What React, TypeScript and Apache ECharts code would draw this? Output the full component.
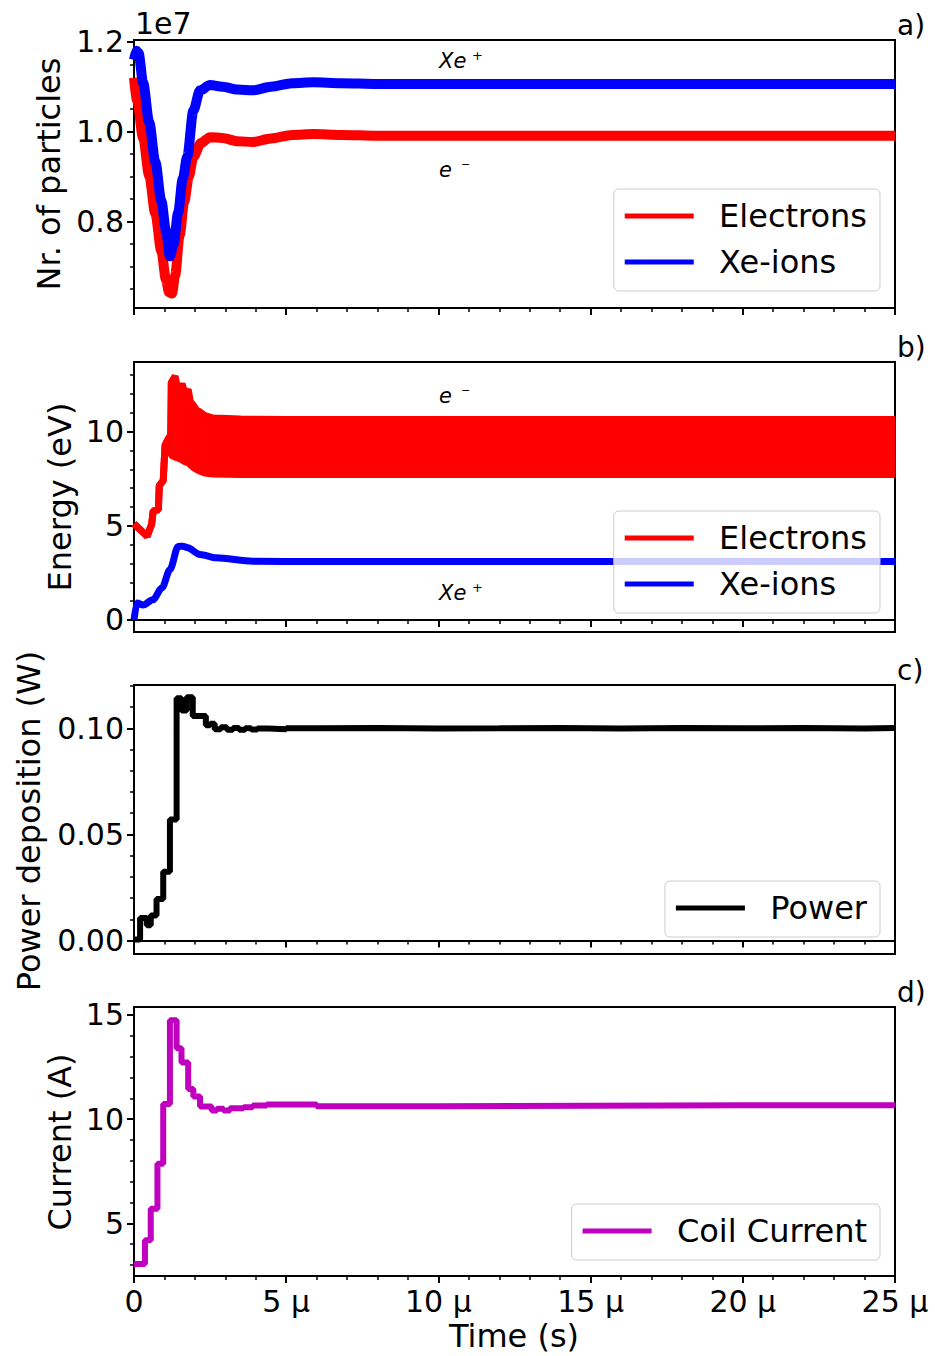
import React, { useEffect, useRef } from 'react';
import * as echarts from 'echarts';

const FONT = 'DejaVu Sans';

// ---------- Panel a: number of particles (x1e7) ----------
const tElecA = [0, 0.1, 0.3, 0.5, 0.7, 0.9, 1.05, 1.15, 1.25, 1.35, 1.5, 1.65, 1.8, 1.95, 2.2, 2.5, 2.9, 3.4, 3.9, 4.5, 5.2, 5.9, 6.8, 8, 10, 13, 16, 19, 22, 25];
const nElectrons = [1.12, 1.07, 0.986, 0.902, 0.818, 0.734, 0.671, 0.643, 0.64, 0.68, 0.77, 0.845, 0.9, 0.944, 0.975, 0.988, 0.986, 0.979, 0.977, 0.985, 0.993, 0.995, 0.993, 0.991, 0.991, 0.991, 0.991, 0.991, 0.991, 0.991];
const tIonA = [0, 0.08, 0.15, 0.3, 0.5, 0.7, 0.9, 1.05, 1.18, 1.3, 1.45, 1.6, 1.75, 1.95, 2.17, 2.5, 2.9, 3.4, 3.9, 4.5, 5.2, 5.9, 6.8, 8, 10, 13, 16, 19, 22, 25];
const nIons = [1.16, 1.18, 1.175, 1.109, 1.021, 0.933, 0.846, 0.78, 0.723, 0.75, 0.82, 0.895, 0.945, 1.047, 1.092, 1.104, 1.1, 1.094, 1.092, 1.1, 1.108, 1.11, 1.108, 1.106, 1.106, 1.106, 1.106, 1.106, 1.106, 1.106];

// ---------- Panel b: energy (eV) ----------
const tEnergyE = [0, 0.2, 0.43, 0.58, 0.63, 0.8, 0.83, 0.96, 1.02, 1.13, 1.2, 1.22, 1.35, 1.45, 1.58, 1.68, 1.78, 1.85, 1.95, 2.05, 2.17, 2.33, 2.6, 3.5, 5, 10, 15, 20, 25];
const eUpper = [5.1, 4.8, 4.44, 5.08, 5.79, 5.85, 7.13, 7.4, 9.27, 9.63, 9.8, 12.6, 12.95, 12.1, 12.55, 12.0, 12.25, 11.6, 11.4, 11.15, 11.05, 10.85, 10.72, 10.67, 10.65, 10.65, 10.65, 10.65, 10.65];
const eLower = [5.1, 4.8, 4.44, 5.08, 5.79, 5.85, 7.13, 7.4, 9.27, 9.63, 9.8, 8.75, 8.65, 8.6, 8.5, 8.4, 8.35, 8.25, 8.1, 8.0, 7.9, 7.8, 7.75, 7.72, 7.72, 7.72, 7.72, 7.72, 7.72];
const tEnergyI = [0, 0.1, 0.3, 0.62, 0.92, 1.18, 1.45, 1.6, 1.74, 2.17, 2.7, 3.9, 6, 10, 15, 20, 25];
const eIons = [0, 0.9, 0.8, 1.07, 1.7, 2.67, 3.9, 3.92, 3.85, 3.48, 3.3, 3.12, 3.1, 3.1, 3.1, 3.1, 3.1];

// ---------- Panel c: power deposition (W) ----------
const tPower = [0, 0.2, 0.42, 0.55, 0.74, 0.96, 1.18, 1.4, 1.56, 1.73, 1.93, 2.36, 2.5, 2.65, 2.85, 3.05, 3.25, 3.45, 3.65, 3.85, 4.05, 4.4, 5, 6, 8, 10, 12, 14, 16, 18, 20, 22, 24, 25];
const power = [0.0005, 0.0107, 0.0072, 0.0118, 0.0196, 0.0324, 0.057, 0.1142, 0.1084, 0.1146, 0.1058, 0.1014, 0.1022, 0.0995, 0.1005, 0.0993, 0.1002, 0.0993, 0.1, 0.0994, 0.0999, 0.0996, 0.1, 0.1001, 0.0999, 0.1, 0.1002, 0.0999, 0.1001, 0.1, 0.1002, 0.0999, 0.1001, 0.1];

// ---------- Panel d: coil current (A) ----------
const tCurrent = [0, 0.36, 0.55, 0.77, 0.96, 1.18, 1.4, 1.56, 1.78, 1.95, 2.17, 2.55, 2.72, 2.94, 3.15, 3.6, 3.9, 4.36, 5, 6, 8, 10, 15, 20, 25];
const current = [3.04, 4.19, 5.7, 7.86, 10.73, 14.75, 13.4, 12.72, 11.45, 11.08, 10.6, 10.41, 10.5, 10.41, 10.52, 10.57, 10.65, 10.7, 10.7, 10.62, 10.62, 10.64, 10.66, 10.67, 10.68];

// ---------- Axes ticks ----------
const xMajor = [0, 5, 10, 15, 20, 25];
const yMajor = [[0.8, 1.0, 1.2], [0, 5, 10], [0, 0.05, 0.1], [5, 10, 15]];
const yMinor = [
  [0.65, 0.7, 0.75, 0.85, 0.9, 0.95, 1.05, 1.1, 1.15],
  [1, 2, 3, 4, 6, 7, 8, 9, 11, 12, 13],
  [0.01, 0.02, 0.03, 0.04, 0.06, 0.07, 0.08, 0.09, 0.11, 0.12],
  [3, 4, 6, 7, 8, 9, 11, 12, 13, 14],
];
const yRange = [[0.608, 1.204], [-0.64, 13.7], [-0.0063, 0.1204], [2.47, 15.38]];
const yDecimals = [1, 0, 2, 0];
const yTitles = ['Nr. of particles', 'Energy (eV)', 'Power deposition (W)', 'Current (A)'];
const panelLabels = ['a)', 'b)', 'c)', 'd)'];

const zip = (t: number[], v: number[]) => t.map((x, i) => [x, v[i]]);

const GRID_TOPS = [40, 362, 685, 1007];
const GRID_H = [268, 270, 269, 269];
const GRID_LEFT = 134;
const GRID_W = 761;

export default function App() {
  const ref = useRef<HTMLDivElement>(null);
  useEffect(() => {
    if (!ref.current) return;
    const chart = echarts.init(ref.current, null, { renderer: 'svg' });
    const grids = GRID_TOPS.map((top, i) => ({
      left: GRID_LEFT, top, width: GRID_W, height: GRID_H[i],
      show: true, borderColor: '#000', borderWidth: 2, backgroundColor: 'transparent',
    }));
    const xAxes = GRID_TOPS.map((_, i) => ({
      type: 'value', gridIndex: i, min: 0, max: 25, interval: 5,
      axisLine: { show: true, lineStyle: { color: '#000', width: 2 } },
      axisTick: { show: true, length: 7, lineStyle: { color: '#000', width: 2 } },
      minorTick: { show: true, splitNumber: 5, length: 4, lineStyle: { color: '#000', width: 1.5 } },
      splitLine: { show: false },
      axisLabel: {
        show: i === 3, margin: 10, fontSize: 30, fontFamily: FONT, color: '#000',
        formatter: (v: number) => (v === 0 ? '0' : `${v} \u00b5`),
        customValues: xMajor,
      },
    }));
    const yAxes: any[] = [];
    GRID_TOPS.forEach((_, i) => {
      yAxes.push({
        type: 'value', gridIndex: i, position: 'left', min: yRange[i][0], max: yRange[i][1],
        axisLine: { show: true, onZero: false, lineStyle: { color: '#000', width: 2 } },
        axisTick: { show: true, length: 7, customValues: yMajor[i], lineStyle: { color: '#000', width: 2 } },
        axisLabel: {
          show: true, margin: 10, fontSize: 30, fontFamily: FONT, color: '#000',
          customValues: yMajor[i], formatter: (v: number) => v.toFixed(yDecimals[i]),
        },
        splitLine: { show: false },
      });
      yAxes.push({
        type: 'value', gridIndex: i, position: 'left', offset: 0, min: yRange[i][0], max: yRange[i][1],
        axisLine: { show: false },
        axisTick: { show: true, length: 4, customValues: yMinor[i], lineStyle: { color: '#000', width: 1.5 } },
        axisLabel: { show: false },
        splitLine: { show: false },
      });
    });

    const lineBase = { type: 'line', showSymbol: false, symbol: 'none', animation: false };
    const series: any[] = [
      { ...lineBase, name: 'Electrons', xAxisIndex: 0, yAxisIndex: 0, color: '#ff0000', smooth: 0.3, smoothMonotone: 'x', data: zip(tElecA, nElectrons), lineStyle: { width: 10, color: '#ff0000' } },
      { ...lineBase, name: 'Xe-ions', xAxisIndex: 0, yAxisIndex: 0, color: '#0000ff', smooth: 0.3, smoothMonotone: 'x', data: zip(tIonA, nIons), lineStyle: { width: 10, color: '#0000ff' } },
      {
        type: 'custom', name: 'eBand', xAxisIndex: 1, yAxisIndex: 2, animation: false,
        data: tEnergyE.map((t, i) => [t, eLower[i], eUpper[i]]),
        encode: { x: 0, y: [1, 2] },
        renderItem: (params: any, api: any) => {
          const i = params.dataIndexInside;
          if (i === 0) return { type: 'group', children: [] };
          const p0 = api.coord([api.value(0, i - 1), api.value(1, i - 1)]);
          const p1 = api.coord([api.value(0, i), api.value(1, i)]);
          const p2 = api.coord([api.value(0, i), api.value(2, i)]);
          const p3 = api.coord([api.value(0, i - 1), api.value(2, i - 1)]);
          return { type: 'polygon', shape: { points: [p0, p1, p2, p3] }, style: { fill: '#ff0000', stroke: '#ff0000', lineWidth: 1 } };
        },
      },
      { ...lineBase, name: 'eLow', xAxisIndex: 1, yAxisIndex: 2, color: '#ff0000', data: zip(tEnergyE, eLower), lineStyle: { width: 7, color: '#ff0000' } },
      { ...lineBase, name: 'Electrons', xAxisIndex: 1, yAxisIndex: 2, color: '#ff0000', data: zip(tEnergyE, eUpper), lineStyle: { width: 7, color: '#ff0000' } },
      { ...lineBase, name: 'Xe-ions', xAxisIndex: 1, yAxisIndex: 2, color: '#0000ff', smooth: 0.3, smoothMonotone: 'x', data: zip(tEnergyI, eIons), lineStyle: { width: 7, color: '#0000ff' } },
      { ...lineBase, name: 'Power', xAxisIndex: 2, yAxisIndex: 4, step: 'end', color: '#000000', data: zip(tPower, power), lineStyle: { width: 6, color: '#000000' } },
      { ...lineBase, name: 'Coil Current', xAxisIndex: 3, yAxisIndex: 6, step: 'end', color: '#bf00bf', data: zip(tCurrent, current), lineStyle: { width: 6, color: '#bf00bf' } },
    ];

    const legendBase = {
      right: 55, orient: 'vertical', icon: 'rect', itemWidth: 69, itemHeight: 5, itemGap: 12,
      padding: [10, 13, 12, 11], borderColor: '#cccccc', borderWidth: 1, borderRadius: 5,
      backgroundColor: 'rgba(255,255,255,0.8)', selectedMode: false,
      formatter: (n: string) => '  ' + n,
      textStyle: { fontSize: 32, fontFamily: FONT, color: '#000', lineHeight: 34 },
    };
    const legends = [
      { ...legendBase, top: 189, data: ['Electrons', 'Xe-ions'] },
      { ...legendBase, top: 511, data: ['Electrons', 'Xe-ions'] },
      { ...legendBase, top: 881, data: ['Power'] },
      { ...legendBase, top: 1204, data: ['Coil Current'] },
    ];

    const txt = (text: string, x: number, y: number, size: number, opts: any = {}) => ({
      type: 'text', x, y, rotation: opts.rotation || 0, z: 100,
      style: {
        text, fontSize: size, fontFamily: FONT, fontStyle: opts.italic ? 'italic' : 'normal', fill: '#000',
        align: opts.align || 'left', textAlign: opts.align || 'left',
        verticalAlign: 'middle', textVerticalAlign: 'middle',
      },
    });
    const titleX = [49, 60, 29, 60];
    const titleY = [174, 497, 821, 1142];
    const graphics: any[] = [];
    yTitles.forEach((t, i) => graphics.push(txt(t, titleX[i], titleY[i], 32, { rotation: Math.PI / 2, align: 'center' })));
    panelLabels.forEach((t, i) => graphics.push(txt(t, 897, GRID_TOPS[i] - 15, 28)));
    graphics.push(txt('1e7', 135, 23, 30));
    graphics.push(txt('Time (s)', 514, 1336, 32, { align: 'center' }));
    // species annotations
    const ann = (base: string, sup: string, x: number, y: number, supDx: number, supDy: number, supSize: number) => {
      graphics.push(txt(base, x, y, 21, { italic: true }));
      graphics.push(txt(sup, x + supDx, y + supDy, supSize));
    };
    ann('Xe', '+', 439, 61, 33, -6, 13);
    ann('e', '\u2212', 439, 170, 22, -6, 11);
    ann('e', '\u2212', 439, 396, 22, -6, 11);
    ann('Xe', '+', 439, 593, 33, -6, 13);

    chart.setOption({
      animation: false,
      grid: grids,
      xAxis: xAxes,
      yAxis: yAxes,
      series,
      legend: legends,
      graphic: { elements: graphics },
    });
    return () => chart.dispose();
  }, []);
  return <div ref={ref} style={{ position: 'absolute', left: 0, top: 0, width: 935, height: 1356, background: '#fff' }} />;
}
